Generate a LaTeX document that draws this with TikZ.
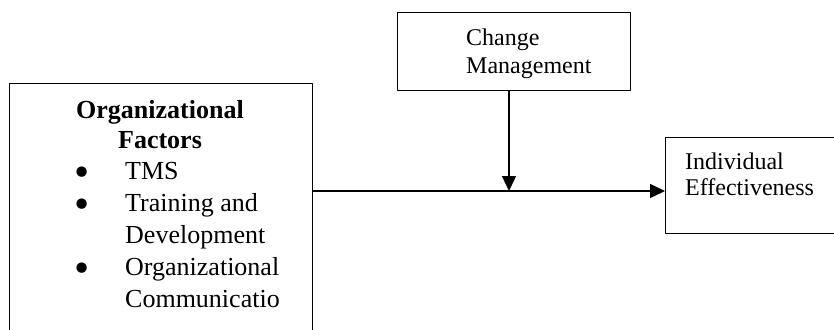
\documentclass[tikz,border=0pt]{standalone}
\usepackage{fontspec}
\usepackage{graphicx}
\setmainfont{Liberation Serif}
\usetikzlibrary{arrows.meta}

\newcommand{\itemdot}{\makebox[54bp][l]{\hspace{3bp}\raisebox{-7bp}{\scalebox{1.67}{\textbullet}}}}

\begin{document}
\begin{tikzpicture}[line cap=round,line join=round,x=1bp,y=-1bp,
  box/.style={draw,line width=1.3bp,inner sep=0pt},
  lbl/.style={inner sep=0pt,align=left},
  >={Triangle[length=15bp,width=14bp]}]

\useasboundingbox (0,0) rectangle (834,329);
\clip (0,0) rectangle (834,329);

\node [box,anchor=north west,minimum width=303bp,minimum height=290bp] (factors) at (9,83) {};
\node [box,anchor=north west,minimum width=233bp,minimum height=78bp] (change) at (397,12) {};
\node [box,anchor=north west,minimum width=200bp,minimum height=96bp] (indiv) at (665,137) {};

\node [lbl,align=center,anchor=base,font=\fontsize{26bp}{30bp}\selectfont\bfseries] (facthead) at (160,148) {Organizational\\Factors};
\node [lbl,anchor=base west,font=\fontsize{26bp}{32bp}\selectfont] (factlist) at (71,307)
  {\itemdot TMS\\
   \itemdot Training and\\
   \hspace*{54bp}Development\\
   \itemdot Organizational\\
   \hspace*{54bp}Communicatio};
\node [lbl,anchor=base west,font=\fontsize{24bp}{28bp}\selectfont] (changetext) at (466,73) {Change\\Management};
\node [lbl,anchor=base west,font=\fontsize{24bp}{26bp}\selectfont] (indivtext) at (685,195) {Individual\\Effectiveness};

\coordinate (meet) at (509,191);
\draw [->,line width=1.3bp] (change.south -| meet) -- (meet);
\draw [->,line width=1.3bp] (factors.east |- meet) -- (indiv.west |- meet);
\end{tikzpicture}
\end{document}
